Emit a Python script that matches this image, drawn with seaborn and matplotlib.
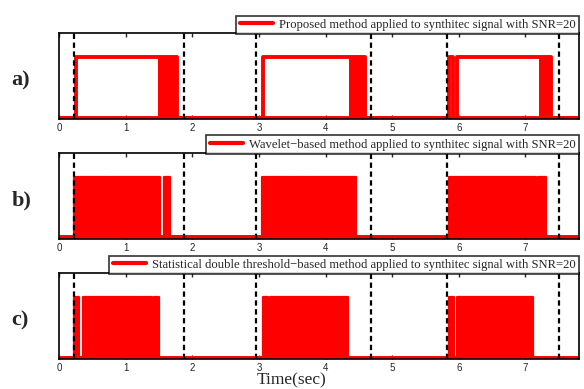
import matplotlib
matplotlib.use("Agg")
import matplotlib.pyplot as plt
import seaborn as sns
import pandas as pd
import numpy as np

# Detection results (time in seconds)
# "on" intervals draw the step outline, "dense" intervals are the solid chatter blocks
a_on = [(0.26, 1.77), (3.06, 4.59), (5.86, 5.92), (5.98, 7.38)]
a_dense = [(1.49, 1.77), (4.35, 4.59), (7.21, 7.38)]

b_on = [(0.22, 0.785), (0.795, 1.51), (1.58, 1.66), (3.05, 3.525), (3.535, 3.705),
        (3.715, 4.46), (5.85, 7.16), (7.19, 7.31)]
b_dense = b_on

c_on = [(0.23, 0.30), (0.36, 1.175), (1.185, 1.40), (1.42, 1.50), (3.06, 3.13),
        (3.17, 4.085), (4.095, 4.33), (5.86, 5.93), (5.98, 7.12)]
c_dense = c_on

# true onsets / offsets of the synthetic signal
markers = [0.22, 1.87, 2.95, 4.68, 5.82, 7.51]

legends = ["Proposed method applied to synthitec signal with SNR=20",
           "Wavelet\u2212based method applied to synthitec signal with SNR=20",
           "Statistical double threshold\u2212based method applied to synthitec signal with SNR=20"]
panel_labels = ["a)", "b)", "c)"]
x_end = 7.8


def step_frame(on_list):
    t = [0.0]
    v = [0]
    for s, e in on_list:
        t += [s, s, e, e]
        v += [0, 1, 1, 0]
    t.append(x_end)
    v.append(0)
    return pd.DataFrame({"t": t, "v": v})


sns.set_style("white")
plt.rcParams["font.family"] = ["Liberation Serif", "DejaVu Serif"]

fig = plt.figure(figsize=(5.84, 3.89), dpi=100)
boxes = [(0.101, 0.694, 0.89, 0.221), (0.101, 0.386, 0.89, 0.221), (0.101, 0.077, 0.89, 0.221)]
panels = [(a_on, a_dense), (b_on, b_dense), (c_on, c_dense)]
widths = [2.8, 1.6, 1.6]

for i, (box, (on, dense)) in enumerate(zip(boxes, panels)):
    ax = fig.add_axes(box)
    df = step_frame(on)
    for s, e in dense:
        ax.fill_between([s, e], 0, 1, color="#ff0000", lw=0)
    sns.lineplot(data=df, x="t", y="v", sort=False, estimator=None, color="#ff0000",
                 lw=widths[i], ax=ax, label=legends[i])
    # thick baseline like the reference
    ax.axhline(0, color="#ff0000", lw=2.8, zorder=1.5)
    for m in markers:
        ax.axvline(m, color="black", lw=1.6, linestyle=(0, (2.4, 1.6)))
    ax.set_xlim(0, x_end)
    ax.set_ylim(-0.025, 1.4)
    ax.set_yticks([])
    ax.set_xticks(range(0, 8))
    ax.set_xlabel("")
    ax.set_ylabel("")
    ax.tick_params(axis="x", direction="in", length=3, width=1, top=True, bottom=True,
                   labelsize=7, pad=3)
    for lab in ax.get_xticklabels():
        lab.set_family("Liberation Sans")
    for sp in ax.spines.values():
        sp.set_color("black")
        sp.set_linewidth(1.2)
    leg = ax.legend(loc="lower right", bbox_to_anchor=(1.0, 0.99), fontsize=9.1,
                    frameon=True, fancybox=False, borderpad=0.25, handlelength=2.6,
                    handletextpad=0.5, borderaxespad=0)
    leg.get_frame().set_edgecolor("black")
    leg.get_frame().set_linewidth(1.2)
    for ln in leg.get_lines():
        ln.set_linewidth(3)
    fig.text(0.02, box[1] + box[3] * 0.45, panel_labels[i], fontsize=16, fontweight="bold",
             va="center", ha="left")

fig.text(0.5, 0.022, "Time(sec)", fontsize=12.5, ha="center", va="center")

plt.savefig("out.png", dpi=100)
